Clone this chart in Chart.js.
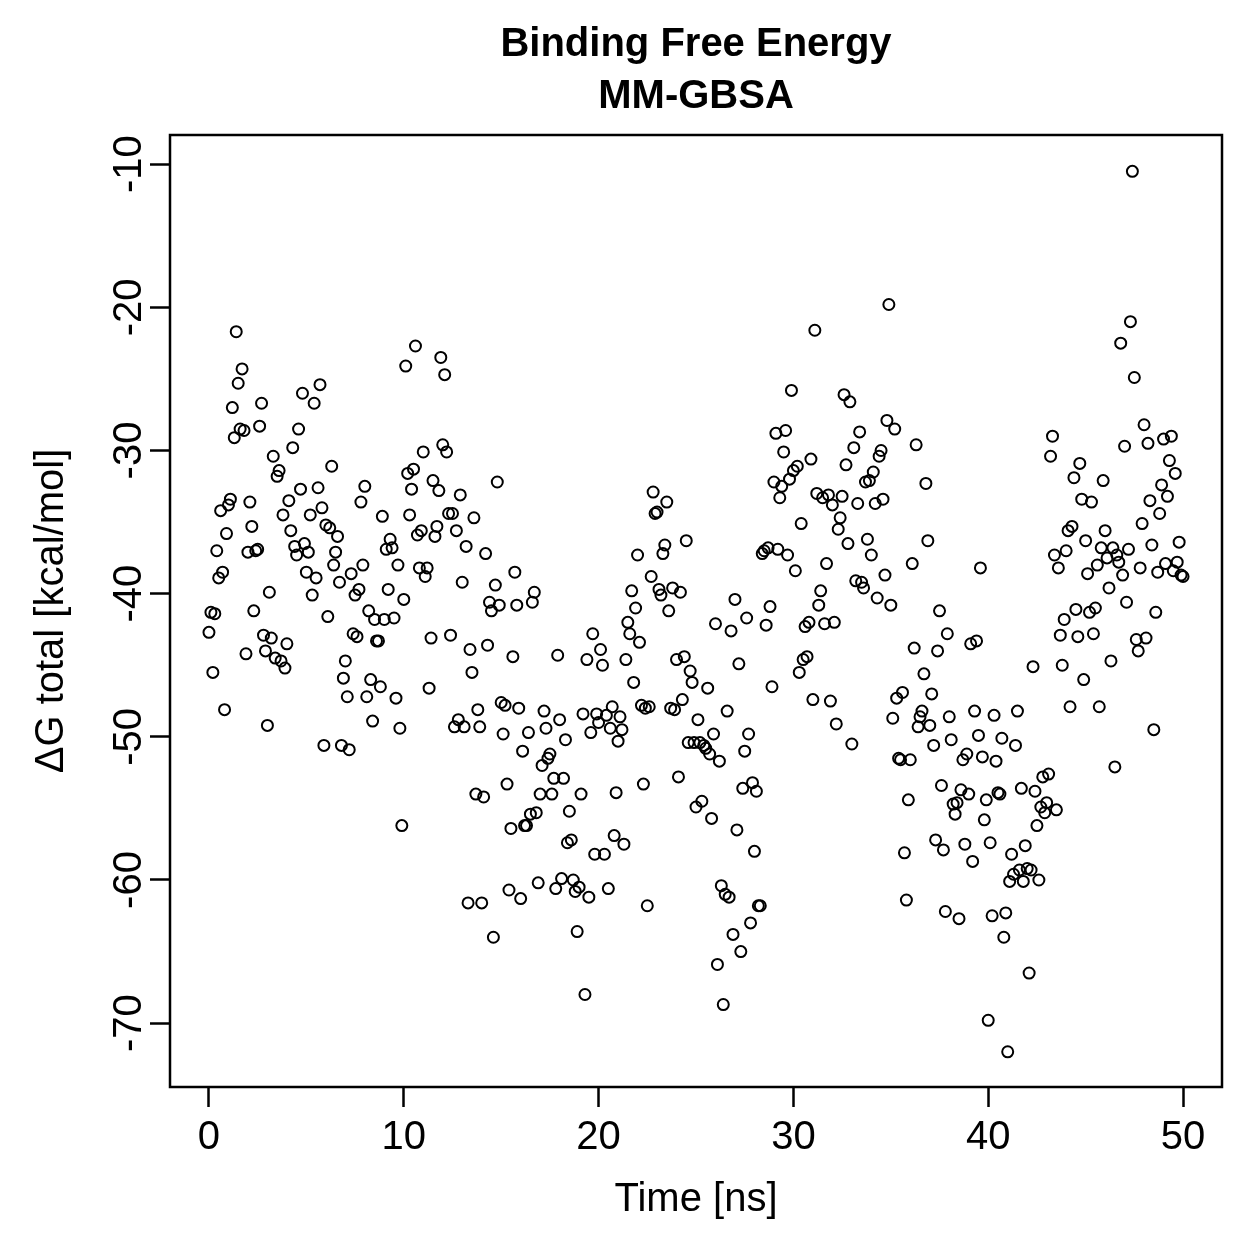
<!DOCTYPE html>
<html>
<head>
<meta charset="utf-8">
<script src="https://cdn.jsdelivr.net/npm/chart.js@4.4.0/dist/chart.umd.min.js"></script>
<style>
  html, body { margin: 0; padding: 0; background: #fff; }
  canvas { display: block; }
</style>
</head>
<body>
<canvas id="mmgbsa" width="1259" height="1259" style="width:1259px;height:1259px"></canvas>
<script>
// snapshot spacing along the trajectory
var nsPerFrame = 0.1;

// dG total per frame, kcal/mol
var dG = [
  -42.7, -41.3, -45.5, -41.4, -37.0, -38.9, -34.2, -38.5, -48.1, -35.8,
  -33.8, -33.4, -27.0, -29.1, -21.7, -25.3, -28.5, -24.3, -28.6, -44.2,
  -37.1, -33.6, -35.3, -41.2, -37.0, -36.9, -28.3, -26.7, -42.9, -44.0,
  -49.2, -39.9, -43.1, -30.4, -44.5, -31.8, -31.4, -44.7, -34.5, -45.2,
  -43.5, -33.5, -35.6, -29.8, -36.7, -37.3, -28.5, -32.7, -26.0, -36.5,
  -38.5, -37.1, -34.5, -40.1, -26.7, -38.9, -32.6, -25.4, -34.0, -50.6,
  -35.2, -41.6, -35.4, -31.1, -38.0, -37.1, -36.0, -39.2, -50.6, -45.9,
  -44.7, -47.2, -50.9, -38.6, -42.8, -40.1, -43.0, -39.7, -33.6, -38.0,
  -32.5, -47.2, -41.2, -46.0, -48.9, -41.8, -43.3, -43.3, -46.5, -34.6,
  -41.8, -36.9, -39.7, -36.2, -36.8, -41.7, -47.3, -38.0, -49.4, -56.2,
  -40.4, -24.1, -31.6, -34.5, -32.7, -31.3, -22.7, -35.9, -38.2, -35.6,
  -30.1, -38.8, -38.2, -46.6, -43.1, -32.1, -36.0, -35.3, -32.8, -23.5,
  -29.6, -24.7, -30.1, -34.4, -42.9, -34.4, -49.3, -35.6, -48.8, -33.1,
  -39.2, -49.3, -36.7, -61.6, -43.9, -45.5, -34.7, -54.0, -48.1, -49.3,
  -61.6, -54.2, -37.2, -43.6, -40.6, -41.2, -64.0, -39.4, -32.2, -40.8,
  -47.6, -49.8, -47.8, -53.3, -60.7, -56.4, -44.4, -38.5, -40.8, -48.0,
  -61.3, -51.0, -56.2, -56.2, -49.7, -55.4, -40.6, -39.9, -55.3, -60.2,
  -54.0, -52.0, -48.2, -49.4, -51.5, -51.2, -54.0, -52.9, -60.6, -44.3,
  -48.8, -59.9, -52.9, -50.2, -57.4, -55.2, -57.2, -60.0, -60.8, -63.6,
  -60.5, -54.0, -48.4, -68.0, -44.6, -61.2, -49.7, -42.8, -58.2, -48.4,
  -49.0, -43.9, -45.0, -58.2, -48.5, -60.6, -49.4, -47.9, -56.9, -53.9,
  -50.3, -48.6, -49.5, -57.5, -44.6, -42.0, -42.8, -39.8, -46.2, -41.0,
  -37.3, -43.4, -47.8, -53.3, -48.0, -61.8, -47.9, -38.8, -32.9, -34.4,
  -34.3, -39.7, -40.1, -37.2, -36.6, -33.6, -41.2, -48.0, -39.6, -48.1,
  -44.6, -52.8, -39.9, -47.4, -44.4, -36.3, -50.4, -45.4, -46.2, -50.4,
  -54.9, -48.8, -50.4, -54.5, -50.6, -50.8, -46.6, -51.2, -55.7, -49.8,
  -42.1, -65.9, -51.7, -60.4, -68.7, -61.0, -48.2, -61.2, -42.6, -63.8,
  -40.4, -56.5, -44.9, -65.0, -53.6, -51.0, -41.7, -49.8, -63.0, -53.2,
  -58.0, -53.8, -61.8, -61.8, -37.2, -37.0, -42.2, -36.8, -40.9, -46.5,
  -32.2, -28.8, -36.9, -33.3, -32.5, -30.1, -28.6, -37.3, -32.0, -25.8,
  -31.4, -38.4, -31.1, -45.5, -35.1, -44.6, -42.3, -44.4, -42.0, -30.6,
  -47.4, -21.6, -33.0, -40.8, -39.8, -33.3, -42.1, -37.9, -33.1, -47.5,
  -33.8, -42.0, -49.1, -35.5, -34.7, -33.2, -26.1, -31.0, -36.5, -26.6,
  -50.5, -29.8, -39.1, -33.7, -28.7, -39.2, -39.6, -32.2, -36.2, -32.1,
  -37.3, -31.5, -33.7, -40.3, -30.4, -30.0, -33.4, -38.7, -27.9, -19.8,
  -40.8, -48.7, -28.5, -47.3, -51.5, -51.6, -46.9, -58.1, -61.4, -54.4,
  -51.6, -37.9, -43.8, -29.6, -49.3, -48.6, -48.2, -45.6, -32.3, -36.3,
  -49.2, -47.0, -50.6, -57.2, -44.0, -41.2, -53.4, -57.9, -62.2, -42.8,
  -48.6, -50.2, -54.7, -55.4, -54.6, -62.7, -53.7, -51.6, -57.5, -51.2,
  -54.0, -43.5, -58.7, -48.2, -43.3, -49.9, -38.2, -51.4, -55.8, -54.4,
  -69.8, -57.4, -62.5, -48.5, -51.7, -53.9, -54.0, -50.1, -64.0, -62.3,
  -72.0, -60.1, -58.2, -59.6, -50.6, -48.2, -59.3, -53.6, -60.1, -57.6,
  -59.2, -66.5, -59.3, -45.1, -53.8, -56.2, -60.0, -54.9, -52.8, -55.3,
  -54.6, -52.6, -30.4, -29.0, -37.3, -55.1, -38.2, -42.9, -45.0, -41.8,
  -37.0, -35.6, -47.9, -35.3, -31.9, -41.1, -43.0, -30.9, -33.4, -46.0,
  -36.3, -38.6, -41.3, -33.6, -42.8, -41.0, -38.0, -47.9, -36.8, -32.1,
  -35.6, -37.5, -39.6, -44.7, -36.8, -52.1, -37.3, -37.8, -22.5, -38.7,
  -29.7, -40.6, -36.9, -21.0, -10.5, -24.9, -43.2, -44.0, -38.2, -35.1,
  -28.2, -43.1, -29.5, -33.5, -36.6, -49.5, -41.3, -38.5, -34.4, -32.4,
  -29.2, -37.9, -33.2, -30.7, -29.0, -38.4, -31.6, -37.8, -36.4, -38.7,
  -38.8
];

var xTicks = [0, 10, 20, 30, 40, 50];
var yTicks = [-70, -60, -50, -40, -30, -20, -10];
var titleLines = ['Binding Free Energy', 'MM-GBSA'];

var fontFam = '"Liberation Sans", Arial, Helvetica, sans-serif';

var points = dG.map(function(v, i) {
  return { x: +(i * nsPerFrame).toFixed(1), y: v };
});

// R-style extras: title centred on the plot region, box, vertical y tick labels
var rFrame = {
  id: 'rFrame',
  afterDatasetsDraw: function(chart) {
    var a = chart.chartArea, ctx = chart.ctx;
    ctx.save();
    ctx.strokeStyle = '#000';
    ctx.lineWidth = 2.5;
    ctx.strokeRect(a.left, a.top, a.right - a.left, a.bottom - a.top);
    ctx.restore();
  },
  afterDraw: function(chart) {
    var a = chart.chartArea, ys = chart.scales.y, ctx = chart.ctx;
    ctx.save();
    ctx.fillStyle = '#000';
    ctx.textAlign = 'center';
    ctx.textBaseline = 'middle';

    ctx.font = 'bold 40px ' + fontFam;
    var cx = (a.left + a.right) / 2;
    titleLines.forEach(function(t, i) {
      ctx.fillText(t, cx, 45 + i * 52);
    });

    ctx.font = '40px ' + fontFam;
    yTicks.forEach(function(t) {
      var py = ys.getPixelForValue(t);
      ctx.save();
      ctx.translate(130, py);
      ctx.rotate(-Math.PI / 2);
      ctx.fillText(String(t), 0, 0);
      ctx.restore();
    });
    ctx.restore();
  }
};

new Chart('mmgbsa', {
  type: 'scatter',
  data: {
    datasets: [{
      data: points,
      pointStyle: 'circle',
      pointRadius: 5.5,
      pointBorderWidth: 2,
      borderColor: '#000',
      backgroundColor: 'rgba(0,0,0,0)',
      showLine: false
    }]
  },
  options: {
    responsive: false,
    animation: false,
    devicePixelRatio: 1,
    layout: { padding: { left: 0, right: 37, top: 135, bottom: 0 } },
    plugins: {
      legend: { display: false },
      tooltip: { enabled: false },
      title: { display: false }
    },
    scales: {
      x: {
        type: 'linear',
        min: -2,
        max: 52,
        afterBuildTicks: function(s) { s.ticks = xTicks.map(function(v) { return { value: v }; }); },
        afterFit: function(s) { s.height = 172; },
        border: { display: false },
        grid: { drawOnChartArea: false, drawTicks: true, tickLength: 20, tickWidth: 2.5, tickColor: '#000' },
        ticks: { color: '#000', font: { family: fontFam, size: 40 }, padding: 7, maxRotation: 0, autoSkip: false },
        title: { display: true, text: 'Time [ns]', color: '#000', font: { family: fontFam, size: 40 }, padding: { top: 0, bottom: 35 } }
      },
      y: {
        type: 'linear',
        min: -74.46,
        max: -7.96,
        afterBuildTicks: function(s) { s.ticks = yTicks.map(function(v) { return { value: v }; }); },
        afterFit: function(s) { s.width = 170; },
        border: { display: false },
        grid: { drawOnChartArea: false, drawTicks: true, tickLength: 20, tickWidth: 2.5, tickColor: '#000' },
        ticks: { display: false },
        title: { display: true, text: 'ΔG total [kcal/mol]', color: '#000', font: { family: fontFam, size: 40 }, padding: { top: 28, bottom: 0 } }
      }
    }
  },
  plugins: [rFrame]
});
</script>
</body>
</html>
